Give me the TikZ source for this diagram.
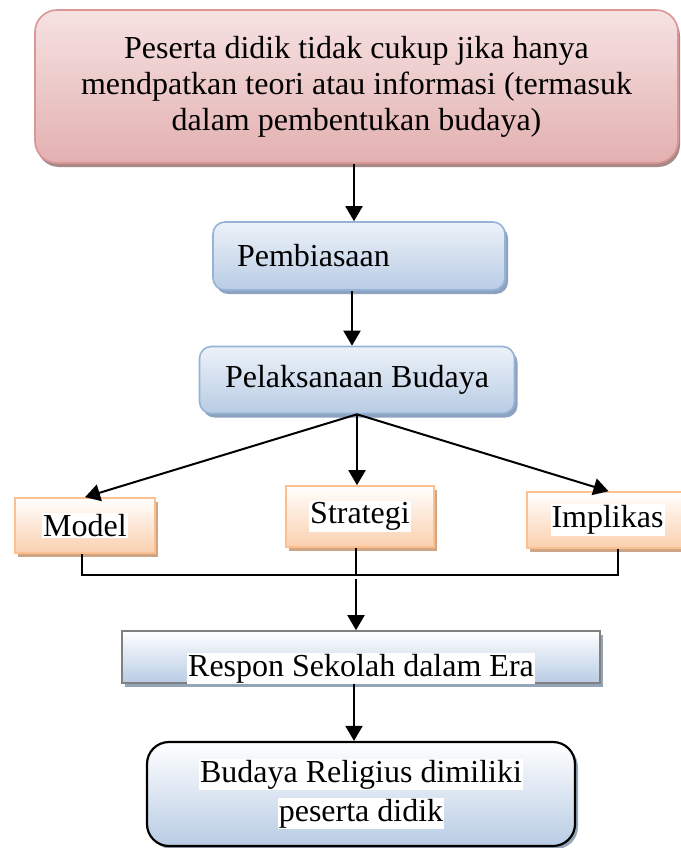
\documentclass[tikz,border=0pt]{standalone}
\usepackage{fontspec}
\setmainfont{Liberation Serif}
\usetikzlibrary{arrows.meta,shadows,calc}
\definecolor{pinkT}{HTML}{F6E2E2}
\definecolor{pinkB}{HTML}{E3B0B0}
\definecolor{pinkD}{HTML}{D99694}
\definecolor{pinkS}{HTML}{A98888}
\definecolor{bluT}{HTML}{EDF2F9}
\definecolor{bluB}{HTML}{B8CCE4}
\definecolor{bluD}{HTML}{95B3D7}
\definecolor{bluS}{HTML}{8DA2BE}
\definecolor{orT}{HTML}{FFFFFF}
\definecolor{orB}{HTML}{FBD0AE}
\definecolor{orD}{HTML}{FAC08F}
\definecolor{orS}{HTML}{CFA585}
\definecolor{grS}{HTML}{93A3B8}
\newcommand{\hl}[1]{{\setlength{\fboxsep}{1pt}\colorbox{white}{#1}}}
\tikzset{
  base/.style={rectangle, inner sep=0pt, font=\fontsize{32}{36}\selectfont, text=black, align=center},
  pinkbox/.style={base, draw=pinkD, line width=1.6pt, rounded corners=22pt,
     top color=pinkT, bottom color=pinkB,
     drop shadow={shadow xshift=2pt, shadow yshift=-4pt, fill=pinkS, opacity=1}},
  bluebox/.style={base, draw=bluD, line width=1.6pt, rounded corners=12pt,
     top color=bluT, bottom color=bluB,
     drop shadow={shadow xshift=3pt, shadow yshift=-4pt, fill=bluS, opacity=1}},
  orbox/.style={base, draw=orD, line width=1.6pt,
     top color=orT, bottom color=orB,
     drop shadow={shadow xshift=3pt, shadow yshift=-4pt, fill=orS, opacity=1}},
  grbox/.style={base, draw=gray, line width=1.6pt,
     top color=white, bottom color=bluB,
     drop shadow={shadow xshift=3pt, shadow yshift=-4pt, fill=grS, opacity=1}},
  blkbox/.style={base, draw=black, line width=2.2pt, rounded corners=22pt,
     top color=white, bottom color=bluB,
     drop shadow={shadow xshift=3pt, shadow yshift=-3pt, fill=grS, opacity=1}},
  arr/.style={line width=2pt, -{Triangle[length=15pt,width=17pt]}},
  conn/.style={line width=1.5pt},
}
\begin{document}
\begin{tikzpicture}[x=1pt,y=-1pt]
\useasboundingbox (0,0) rectangle (680,848);
\node[pinkbox, minimum width=643pt, minimum height=153pt] (top) at (356.5,86.5)
  {Peserta didik tidak cukup jika hanya\\mendpatkan teori atau informasi (termasuk\\dalam pembentukan budaya)};
\node[bluebox, minimum width=292pt, minimum height=68pt, text width=244pt, inner xsep=24pt, align=left] (pemb) at (359,256) {Pembiasaan};
\node[bluebox, minimum width=315pt, minimum height=67pt] (pelak) at (357,380) {Pelaksanaan Budaya};
\node[orbox, minimum width=140pt, minimum height=55pt] (model) at (85,525.5) {\hl{Model}};
\node[orbox, minimum width=148pt, minimum height=61pt] (strat) at (360,516.5) {\hl{Strategi}};
\node[orbox, minimum width=163pt, minimum height=56pt] (impl) at (608.5,520) {\hspace*{-2pt}\hl{Implikas}};
\node[grbox, minimum width=478pt, minimum height=52pt] (respon) at (361,657) {\raisebox{-8pt}[\height][0pt]{\hl{Respon Sekolah dalam Era}}};
\node[blkbox, minimum width=428pt, minimum height=104pt] (budaya) at (361,794)
  {\hl{Budaya Religius dimiliki}\\[3pt]\hl{peserta didik}};
\coordinate (bl) at (82,575);
\coordinate (br) at (618,575);
\coordinate (j) at (356,579);
\draw[arr] (top.south -| 354,0) -- (pemb.north -| 354,0);
\draw[arr] (pemb.south -| 352,0) -- (pelak.north -| 352,0);
\draw[arr] (pelak.south) -- (model.north);
\draw[arr] (pelak.south) -- (strat.north -| pelak.south);
\draw[arr] (pelak.south) -- (impl.north);
\draw[conn] (model.south -| bl) -- (bl) -- (br) -- (impl.south -| br);
\draw[conn] (strat.south -| j) -- (j |- bl);
\draw[arr] (j) -- (j |- respon.north);
\draw[arr] (respon.south -| 354,0) -- (budaya.north -| 354,0);
\end{tikzpicture}
\end{document}
